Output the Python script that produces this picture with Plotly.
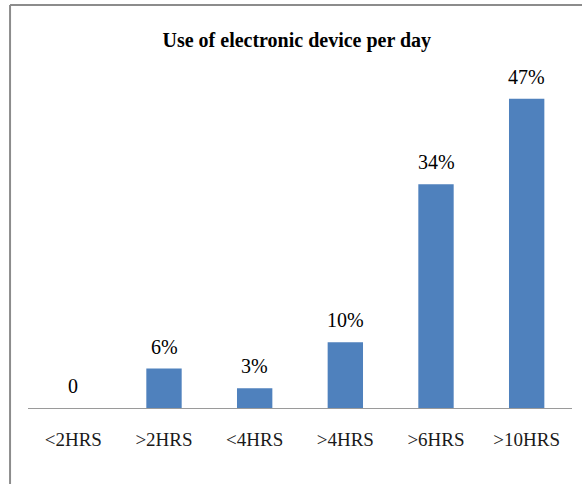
import plotly.graph_objects as go

categories = ["<2HRS", ">2HRS", "<4HRS", ">4HRS", ">6HRS", ">10HRS"]
values = [0, 6, 3, 10, 34, 47]
labels = ["0", "6%", "3%", "10%", "34%", "47%"]
title_text = "Use of electronic device per day"

FONT = "Liberation Serif"

fig = go.Figure()
fig.add_trace(go.Bar(
    x=categories, y=values, width=0.39,
    marker=dict(color="#4F81BD", line=dict(width=0)),
    hoverinfo="skip",
))

for c, v, t in zip(categories, values, labels):
    fig.add_annotation(x=c, y=v, text=t, showarrow=False, xref="x", yref="y",
                       yanchor="middle", yshift=22,
                       font=dict(family=FONT, size=20, color="#000000"))

# outer frame (partially visible: top and left edges)
fig.add_shape(type="line", xref="paper", yref="paper",
              x0=-0.033, x1=1.2, y0=1.158, y1=1.158,
              line=dict(color="#8C8C8C", width=2))
fig.add_shape(type="line", xref="paper", yref="paper",
              x0=-0.033, x1=-0.033, y0=1.158, y1=-0.3,
              line=dict(color="#8C8C8C", width=2))

fig.update_layout(
    width=582, height=484,
    margin=dict(l=28, r=10, t=60, b=76),
    paper_bgcolor="white", plot_bgcolor="white",
    showlegend=False,
    font=dict(family=FONT),
    title=dict(text="<b>" + title_text + "</b>", x=0.51, xanchor="center",
               y=1 - 40 / 484, yanchor="middle", yref="container",
               font=dict(family=FONT, size=20, color="#000000")),
    xaxis=dict(showline=True, linecolor="#9A9A9A", linewidth=1,
               ticks="", showgrid=False, zeroline=False,
               tickfont=dict(family=FONT, size=19, color="#1a1a1a"),
               ticklabelstandoff=14),
    yaxis=dict(visible=False, range=[0, 52.9]),
)

fig.write_html("out.html", config={"displayModeBar": False},
               post_script="document.body.style.margin='0';")
